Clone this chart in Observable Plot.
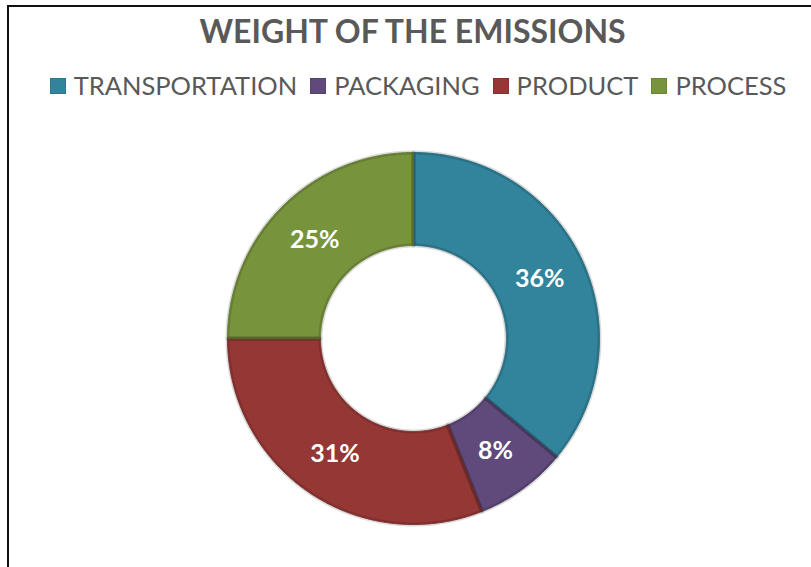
<!DOCTYPE html>
<html>
<head>
<meta charset="utf-8">
<script src="https://cdn.jsdelivr.net/npm/d3@7"></script>
<script src="https://cdn.jsdelivr.net/npm/@observablehq/plot@0.6"></script>
<style>
  html, body { margin: 0; padding: 0; background: #fff; }
  #page { position: relative; width: 811px; height: 567px; overflow: hidden; font-family: Lato, "Open Sans", sans-serif; }
  #frame { position: absolute; left: 7px; top: 5px; right: -10px; bottom: -10px; border-left: 2px solid #111; border-top: 2px solid #111; pointer-events: none; }
  #title { position: absolute; left: 0; width: 825px; top: 15px; text-align: center; font-weight: 700; font-size: 32px; line-height: 32px; color: #595959; }
  #legend { position: absolute; left: 0; width: 836px; top: 73px; display: flex; justify-content: center; align-items: center; font-size: 25.5px; line-height: 25px; color: #595959; }
  .item { display: flex; align-items: center; margin-right: 13px; }
  .item:last-child { margin-right: 0; }
  .sw { width: 16px; height: 16px; margin-right: 8px; box-sizing: border-box; }
  #chart { position: absolute; left: 0; top: 0; }
</style>
</head>
<body>
<div id="page">
  <div id="chart"></div>
  <div id="title"></div>
  <div id="legend"></div>
  <div id="frame"></div>
</div>
<script>
const titleText = "WEIGHT OF THE EMISSIONS";
const categories = ["TRANSPORTATION", "PACKAGING", "PRODUCT", "PROCESS"];
const shares = [36, 8, 31, 25];
const colors = ["#31849B", "#604A7B", "#953735", "#77933C"];
const labelSuffix = "%";

document.getElementById("title").textContent = titleText;
const legend = document.getElementById("legend");
categories.forEach((c, i) => {
  const it = document.createElement("div");
  it.className = "item";
  const sw = document.createElement("div");
  sw.className = "sw";
  sw.style.background = colors[i];
  sw.style.border = "1px solid " + d3.color(colors[i]).darker(0.3);
  const tx = document.createElement("span");
  tx.textContent = c;
  it.appendChild(sw); it.appendChild(tx);
  legend.appendChild(it);
});

const inner = 0.5, outer = 1;
const table = categories.map((c, i) => ({category: c, value: shares[i]}));
const arcs = d3.pie().value(d => d.value).sort(null).startAngle(0).endAngle(2 * Math.PI)(table);

const pts = [];
const labels = [];
for (const a of arcs) {
  const n = Math.max(2, Math.ceil((a.endAngle - a.startAngle) / (Math.PI / 360)));
  for (let k = 0; k <= n; k++) {
    const t = a.startAngle + (a.endAngle - a.startAngle) * k / n;
    pts.push({category: a.data.category, x: outer * Math.sin(t), y: outer * Math.cos(t)});
  }
  for (let k = n; k >= 0; k--) {
    const t = a.startAngle + (a.endAngle - a.startAngle) * k / n;
    pts.push({category: a.data.category, x: inner * Math.sin(t), y: inner * Math.cos(t)});
  }
  const m = (a.startAngle + a.endAngle) / 2, r = (inner + outer) / 2;
  labels.push({x: r * Math.sin(m), y: r * Math.cos(m), text: a.data.value + labelSuffix});
}

const svg = Plot.plot({
  width: 811,
  height: 567,
  margin: 0,
  style: {background: "transparent", overflow: "visible"},
  x: {domain: [-1, 1], range: [227, 599], axis: null},
  y: {domain: [-1, 1], range: [524, 152], axis: null},
  color: {domain: categories, range: colors},
  marks: [
    Plot.line(pts, {x: "x", y: "y", z: "category", fill: "category", stroke: "category", strokeWidth: 1, curve: "linear-closed"}),
    Plot.line(pts, {x: "x", y: "y", z: "category", fill: "none", stroke: "#000", strokeOpacity: 0.14, strokeWidth: 4, curve: "linear-closed"}),
    Plot.text(labels, {x: "x", y: "y", text: "text", fill: "white", fontSize: 25, fontWeight: 700, fontFamily: "Lato, sans-serif"})
  ]
});
document.getElementById("chart").appendChild(svg);
</script>
</body>
</html>
